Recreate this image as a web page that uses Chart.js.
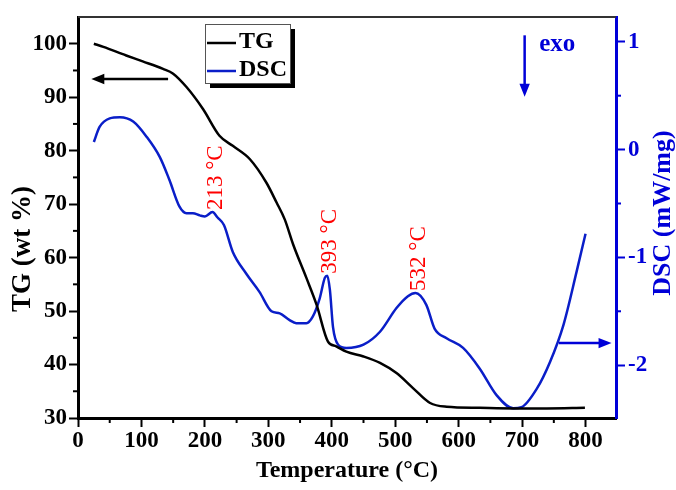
<!DOCTYPE html>
<html>
<head>
<meta charset="utf-8">
<script src="https://cdn.jsdelivr.net/npm/chart.js@4.4.0/dist/chart.umd.min.js"></script>
<style>
  body { margin: 0; background: #fff; }
  #wrap { width: 676px; height: 490px; }
</style>
</head>
<body>
<div id="wrap"><canvas id="chart" width="676" height="490"></canvas></div>
<script>
// TG curve (temperature in °C, mass in wt %)
const tgTemps = [25, 40, 76, 102, 134, 150, 171, 197, 223, 244, 271, 297, 313, 326, 339, 360, 376, 394, 407, 423, 450, 476, 502, 528, 555, 581, 633, 686, 739, 799];
const tgValues = [100.0, 99.4, 97.8, 96.7, 95.3, 94.4, 91.9, 87.8, 82.8, 80.9, 78.4, 74.0, 70.3, 67.1, 62.5, 56.2, 51.2, 44.3, 43.4, 42.4, 41.5, 40.3, 38.4, 35.6, 32.8, 32.1, 31.9, 31.8, 31.8, 31.9];

// DSC curve (temperature in °C, heat flow in mW/mg)
const dscTemps = [25, 34, 50, 66, 87, 108, 129, 144, 160, 171, 181, 192, 200, 212, 220, 230, 244, 265, 286, 305, 318, 333, 344, 360, 370, 381, 389, 393, 397, 402, 410, 423, 450, 476, 502, 520, 532, 549, 562, 581, 607, 633, 660, 686, 699, 723, 744, 765, 786, 800];
const dscValues = [0.07, 0.21, 0.29, 0.30, 0.26, 0.12, -0.07, -0.28, -0.53, -0.59, -0.59, -0.61, -0.62, -0.58, -0.63, -0.70, -0.95, -1.15, -1.32, -1.50, -1.52, -1.58, -1.61, -1.61, -1.55, -1.38, -1.19, -1.17, -1.30, -1.65, -1.81, -1.84, -1.81, -1.69, -1.47, -1.36, -1.33, -1.44, -1.66, -1.75, -1.84, -2.03, -2.28, -2.40, -2.39, -2.22, -1.97, -1.63, -1.13, -0.78];

// peak labels on the DSC curve
const peakTemps = [213, 393, 532];
const peakLabels = ['213 °C', '393 °C', '532 °C'];

const SERIF = '"Liberation Serif", "Times New Roman", serif';
const BLUE = '#0a1ec8';
const AXIS_BLUE = '#0000d8';

function toPoints(xs, ys) {
    return xs.map((t, i) => ({ x: t, y: ys[i] }));
}

function drawArrow(ctx, x1, y1, x2, y2, color, lw, head) {
    const ang = Math.atan2(y2 - y1, x2 - x1);
    ctx.save();
    ctx.strokeStyle = color;
    ctx.fillStyle = color;
    ctx.lineWidth = lw;
    ctx.beginPath();
    ctx.moveTo(x1, y1);
    ctx.lineTo(x2 - Math.cos(ang) * head * 0.8, y2 - Math.sin(ang) * head * 0.8);
    ctx.stroke();
    ctx.beginPath();
    ctx.moveTo(x2, y2);
    ctx.lineTo(x2 - head * Math.cos(ang) + head * 0.4 * Math.sin(ang), y2 - head * Math.sin(ang) - head * 0.4 * Math.cos(ang));
    ctx.lineTo(x2 - head * Math.cos(ang) - head * 0.4 * Math.sin(ang), y2 - head * Math.sin(ang) + head * 0.4 * Math.cos(ang));
    ctx.closePath();
    ctx.fill();
    ctx.restore();
}

// frame, minor ticks, titles, legend, arrows and peak labels
const decorations = {
    id: 'decorations',
    afterDraw(chart) {
        const { ctx, chartArea: a } = chart;
        const x = chart.scales.x, y = chart.scales.y, y2 = chart.scales.y2;

        ctx.save();
        // top frame line
        ctx.strokeStyle = '#333';
        ctx.lineWidth = 2;
        ctx.beginPath();
        ctx.moveTo(a.left, a.top);
        ctx.lineTo(a.right, a.top);
        ctx.stroke();

        // minor ticks
        ctx.lineWidth = 2;
        ctx.strokeStyle = '#000';
        for (let v = 50; v < x.max; v += 100) {
            const px = x.getPixelForValue(v);
            ctx.beginPath(); ctx.moveTo(px, a.bottom); ctx.lineTo(px, a.bottom + 5); ctx.stroke();
        }
        for (let v = 35; v < y.max; v += 10) {
            const py = y.getPixelForValue(v);
            ctx.beginPath(); ctx.moveTo(a.left, py); ctx.lineTo(a.left - 5, py); ctx.stroke();
        }
        ctx.strokeStyle = AXIS_BLUE;
        for (let v = -1.5; v < y2.max; v += 1) {
            const py = y2.getPixelForValue(v);
            ctx.beginPath(); ctx.moveTo(a.right, py); ctx.lineTo(a.right + 5, py); ctx.stroke();
        }

        // axis titles
        ctx.textAlign = 'center';
        ctx.textBaseline = 'middle';
        ctx.fillStyle = '#000';
        ctx.font = 'bold 24px ' + SERIF;
        ctx.fillText('Temperature (°C)', (a.left + a.right) / 2, 471);
        ctx.save();
        ctx.font = 'bold 27px ' + SERIF;
        ctx.translate(23, 249);
        ctx.rotate(-Math.PI / 2);
        ctx.fillText('TG (wt %)', 0, 0);
        ctx.restore();
        ctx.save();
        ctx.font = 'bold 26px ' + SERIF;
        ctx.fillStyle = AXIS_BLUE;
        ctx.translate(663, 213);
        ctx.rotate(-Math.PI / 2);
        ctx.fillText('DSC (mW/mg)', 0, 0);
        ctx.restore();

        // legend box with shadow
        const lx = 205, ly = 24, lw = 85, lh = 59;
        ctx.fillStyle = '#000';
        ctx.fillRect(lx + 5, ly + 5, lw, lh);
        ctx.fillStyle = '#fff';
        ctx.fillRect(lx, ly, lw, lh);
        ctx.strokeStyle = '#555';
        ctx.lineWidth = 1;
        ctx.strokeRect(lx + 0.5, ly + 0.5, lw, lh);
        ctx.lineWidth = 2.5;
        ctx.strokeStyle = '#000';
        ctx.beginPath(); ctx.moveTo(lx + 2, ly + 19); ctx.lineTo(lx + 31, ly + 19); ctx.stroke();
        ctx.strokeStyle = BLUE;
        ctx.beginPath(); ctx.moveTo(lx + 2, ly + 47); ctx.lineTo(lx + 31, ly + 47); ctx.stroke();
        ctx.textAlign = 'left';
        ctx.fillStyle = '#000';
        ctx.font = 'bold 24px ' + SERIF;
        ctx.fillText('TG', lx + 34, ly + 18);
        ctx.fillText('DSC', lx + 34, ly + 46);

        // arrows
        drawArrow(ctx, x.getPixelForValue(142), y.getPixelForValue(93.4), x.getPixelForValue(21), y.getPixelForValue(93.4), '#000', 2.5, 13);
        drawArrow(ctx, x.getPixelForValue(758), y2.getPixelForValue(-1.795), x.getPixelForValue(841), y2.getPixelForValue(-1.795), AXIS_BLUE, 2.5, 13);
        drawArrow(ctx, x.getPixelForValue(704), y2.getPixelForValue(1.06), x.getPixelForValue(704), y2.getPixelForValue(0.49), AXIS_BLUE, 2.5, 13);
        ctx.fillStyle = AXIS_BLUE;
        ctx.font = 'bold 25px ' + SERIF;
        ctx.textAlign = 'left';
        ctx.fillText('exo', x.getPixelForValue(727), y2.getPixelForValue(0.97));

        // peak labels
        ctx.fillStyle = '#ff0000';
        ctx.font = '23px ' + SERIF;
        peakTemps.forEach((t, i) => {
            const k = dscTemps.reduce((best, v, j) => Math.abs(v - t) < Math.abs(dscTemps[best] - t) ? j : best, 0);
            ctx.save();
            ctx.translate(x.getPixelForValue(t) + 3, y2.getPixelForValue(dscValues[k]) - 2);
            ctx.rotate(-Math.PI / 2);
            ctx.textAlign = 'left';
            ctx.textBaseline = 'middle';
            ctx.fillText(peakLabels[i], 0, 0);
            ctx.restore();
        });
        ctx.restore();
    }
};

const tickFont = { family: SERIF, size: 23, weight: 'bold' };

new Chart(document.getElementById('chart'), {
    type: 'line',
    data: {
        datasets: [
            {
                label: 'TG',
                data: toPoints(tgTemps, tgValues),
                yAxisID: 'y',
                borderColor: '#000',
                borderWidth: 2.5,
                pointRadius: 0,
                cubicInterpolationMode: 'monotone'
            },
            {
                label: 'DSC',
                data: toPoints(dscTemps, dscValues),
                yAxisID: 'y2',
                borderColor: BLUE,
                borderWidth: 2.5,
                pointRadius: 0,
                cubicInterpolationMode: 'monotone'
            }
        ]
    },
    options: {
        responsive: false,
        animation: false,
        layout: { padding: { top: 17, left: 0, right: 0, bottom: 0 } },
        plugins: { legend: { display: false }, tooltip: { enabled: false } },
        scales: {
            x: {
                type: 'linear',
                min: 0,
                max: 848,
                afterFit: (s) => { s.height = 72; },
                ticks: { stepSize: 100, includeBounds: false, color: '#000', font: tickFont, padding: 0, maxRotation: 0 },
                grid: { drawOnChartArea: false, tickLength: 9, tickWidth: 2, color: '#000' },
                border: { display: true, width: 3, color: '#000' }
            },
            y: {
                position: 'left',
                min: 30,
                max: 105,
                afterFit: (s) => { s.width = 78; },
                ticks: { stepSize: 10, includeBounds: false, color: '#000', font: tickFont, padding: 2 },
                grid: { drawOnChartArea: false, tickLength: 9, tickWidth: 2, color: '#000' },
                border: { display: true, width: 3, color: '#000' }
            },
            y2: {
                position: 'right',
                min: -2.49,
                max: 1.23,
                afterFit: (s) => { s.width = 60; },
                ticks: { stepSize: 1, includeBounds: false, color: AXIS_BLUE, font: tickFont, padding: 3, callback: (v) => String(v) },
                grid: { drawOnChartArea: false, tickLength: 9, tickWidth: 2, color: AXIS_BLUE },
                border: { display: true, width: 3, color: AXIS_BLUE }
            }
        }
    },
    plugins: [decorations]
});
</script>
</body>
</html>
